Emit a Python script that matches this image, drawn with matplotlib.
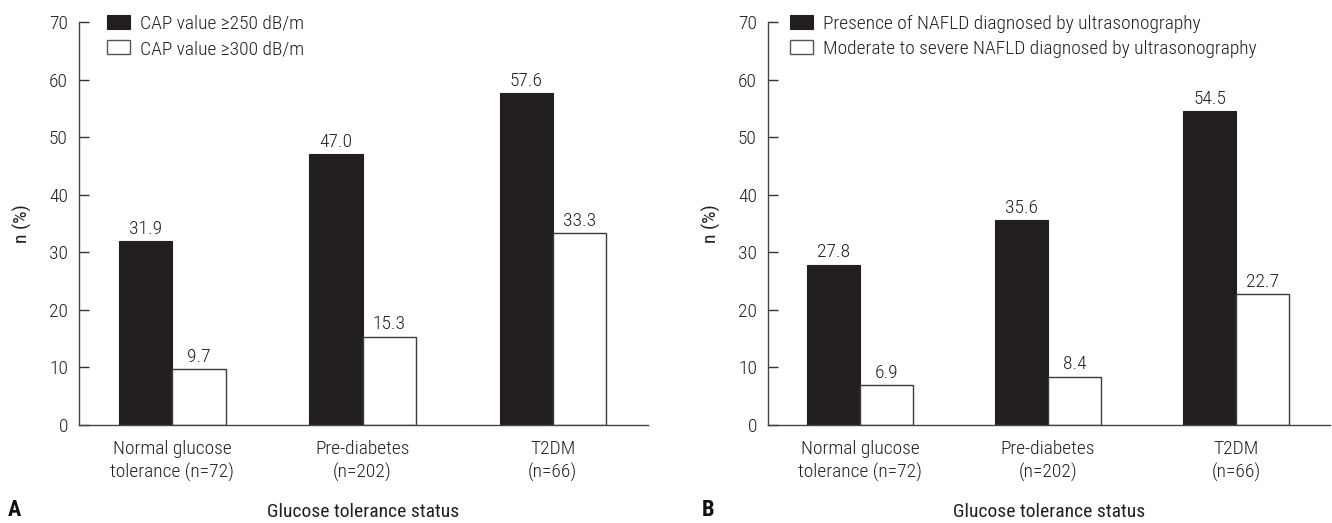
import matplotlib
matplotlib.use("Agg")
import matplotlib.pyplot as plt
from matplotlib.patches import Patch
from matplotlib import font_manager

# Data
groups = ["Normal glucose\ntolerance (n=72)", "Pre-diabetes\n(n=202)", "T2DM\n(n=66)"]
cap_250 = [31.9, 47.0, 57.6]
cap_300 = [9.7, 15.3, 33.3]
us_nafld = [27.8, 35.6, 54.5]
us_mod_severe = [6.9, 8.4, 22.7]
legend_a = ["CAP value \u2265250 dB/m", "CAP value \u2265300 dB/m"]
legend_b = ["Presence of NAFLD diagnosed by ultrasonography",
            "Moderate to severe NAFLD diagnosed by ultrasonography"]
y_ticks = [0, 10, 20, 30, 40, 50, 60, 70]

# Prefer a condensed sans face when one is installed
entries = font_manager.fontManager.ttflist
names = {f.name for f in entries}
condensed = {f.name for f in entries
             if f.stretch in ("condensed", "semi-condensed", "extra-condensed")
             or (isinstance(f.stretch, int) and f.stretch < 500)}
family = None
stretch = "normal"
for cand in ("Roboto Condensed", "Liberation Sans Narrow", "Open Sans Condensed",
             "DejaVu Sans Condensed", "Noto Sans Condensed"):
    if cand in names:
        family = cand
        break
if family is None:
    for cand in ("DejaVu Sans", "Roboto", "Open Sans", "Noto Sans"):
        if cand in condensed:
            family, stretch = cand, "condensed"
            break
if family is None:
    family = "Roboto" if "Roboto" in names else "DejaVu Sans"
plt.rcParams["font.family"] = [family, "DejaVu Sans"]
plt.rcParams["font.stretch"] = stretch
plt.rcParams["font.weight"] = "light"

DARK = "#231f20"
EDGE = "#3a3a3a"
TXT = "#231f20"
FS = 14

W, H = 1332, 523
fig = plt.figure(figsize=(W / 100, H / 100), dpi=100)


def panel(left_px, right_px, first, second, legend_labels, legend_dx):
    top_px, bottom_px = 22, 425
    ax = fig.add_axes([left_px / W, (H - bottom_px) / H,
                       (right_px - left_px) / W, (bottom_px - top_px) / H])
    xs = [0, 1, 2]
    width = 0.28
    b1 = ax.bar([x - width / 2 for x in xs], first, width, color=DARK,
                edgecolor=DARK, linewidth=0.8, zorder=2)
    b2 = ax.bar([x + width / 2 for x in xs], second, width, color="white",
                edgecolor=EDGE, linewidth=1.0, zorder=2)
    for bars, vals in ((b1, first), (b2, second)):
        for r, v in zip(bars, vals):
            ax.text(r.get_x() + r.get_width() / 2, v + 0.6, f"{v:.1f}",
                    ha="center", va="bottom", fontsize=FS, color=TXT)
    ax.set_ylim(0, 70)
    ax.set_yticks(y_ticks)
    ax.set_xticks(xs)
    ax.set_xticklabels(groups, fontsize=FS, color=TXT, linespacing=1.3)
    ax.tick_params(axis="x", length=0, pad=11)
    ax.tick_params(axis="y", direction="in", length=7, width=1.0,
                   labelsize=FS, pad=8, colors="#333333", labelcolor=TXT)
    for s in ("top", "right"):
        ax.spines[s].set_visible(False)
    for s in ("left", "bottom"):
        ax.spines[s].set_color("#444444")
        ax.spines[s].set_linewidth(1.0)
    ax.set_xlim(-0.49, 2.5)
    ax.set_ylabel("n (%)", fontsize=FS, color=TXT, labelpad=12)
    ax.set_xlabel("Glucose tolerance status", fontsize=FS, color=TXT,
                  labelpad=15)
    handles = [Patch(facecolor=DARK, edgecolor=DARK, linewidth=0.8),
               Patch(facecolor="white", edgecolor="#555555", linewidth=1.0)]
    ax.legend(handles, legend_labels, loc="upper left",
              bbox_to_anchor=(legend_dx / (right_px - left_px), 1.018),
              frameon=False, fontsize=FS,
              handlelength=1.2, handleheight=0.72, handletextpad=0.5,
              labelspacing=0.38, borderaxespad=0, borderpad=0,
              labelcolor=TXT)
    return ax


ax_a = panel(79, 648, cap_250, cap_300, legend_a, 28)
ax_b = panel(768, 1330, us_nafld, us_mod_severe, legend_b, 22)

fig.text(8 / W, 1 - 510 / H, "A", fontsize=16, fontweight="bold",
         va="center", ha="left", color="#111111")
fig.text(702 / W, 1 - 510 / H, "B", fontsize=16, fontweight="bold",
         va="center", ha="left", color="#111111")

fig.savefig("out.png", dpi=100)
